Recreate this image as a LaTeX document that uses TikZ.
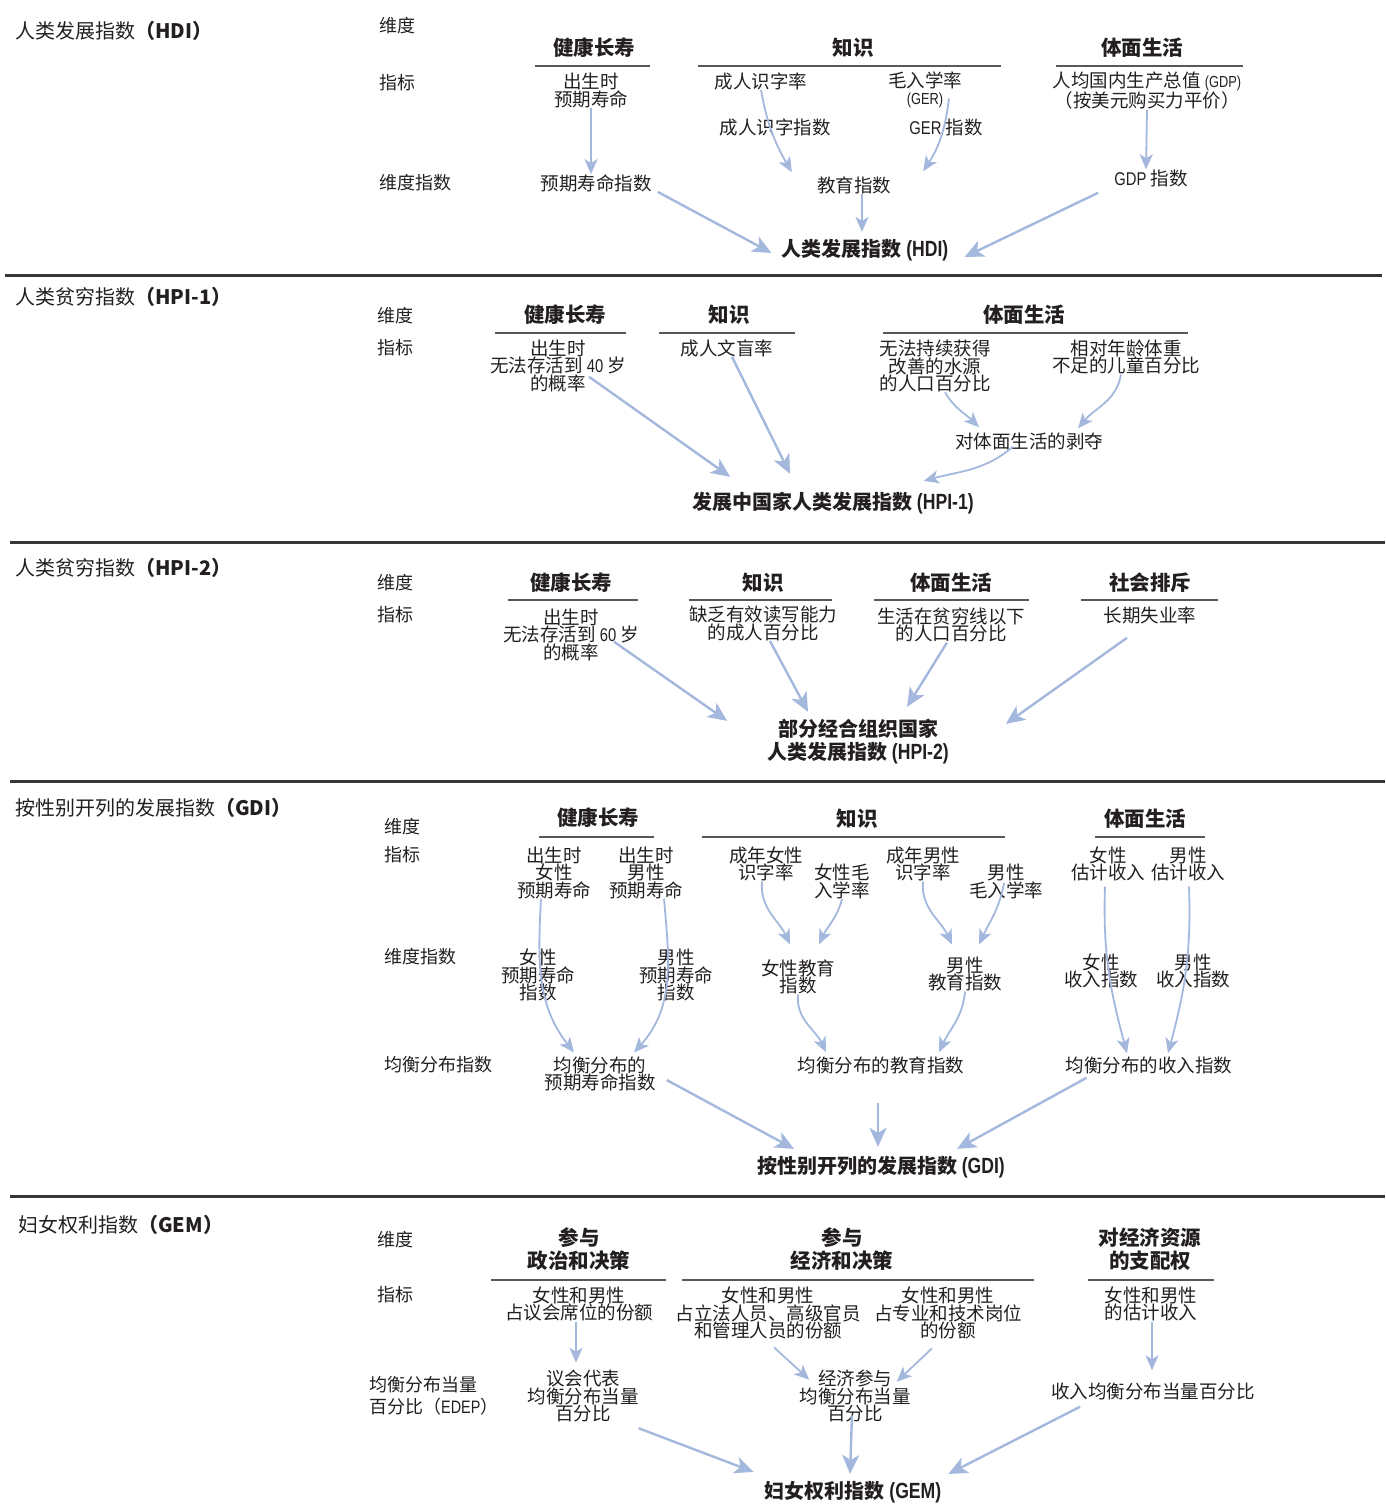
\documentclass[tikz,border=0pt]{standalone}
\usepackage{fontspec}
\setmainfont{Noto Sans CJK SC}
\newfontfamily\cond[FakeStretch=0.8]{Liberation Sans}
\usepackage{xcolor}
\usetikzlibrary{arrows.meta}
\definecolor{ink}{RGB}{35,31,32}
\definecolor{flow}{RGB}{164,184,222}
\definecolor{rulegray}{RGB}{88,88,90}
\newcommand{\fsz}[2]{\fontsize{#1}{#2}\selectfont}

\begin{document}
\begin{tikzpicture}[x=1pt, y=-1pt,
  every node/.style={inner sep=0pt, text=ink},
  txt/.style={align=center, font=\fsz{18.5}{17.5}},
  rowlab/.style={anchor=west, align=left, font=\fsz{18}{21.5}},
  sect/.style={anchor=west, font=\fsz{20}{22}},
  dim/.style={align=center, font=\bfseries\fsz{20.5}{22.5}},
  total/.style={align=center, font=\bfseries\fsz{20}{23}},
  dimrule/.style={draw=rulegray, line width=2pt},
  sep/.style={draw=ink!90, line width=3pt},
  arr/.style={-{Stealth[length=15pt, width=13pt, inset=4pt]}, draw=flow, line width=1.8pt},
  bigarr/.style={arr, -{Stealth[length=19pt, width=17pt, inset=5pt]}, line width=2.4pt}
]
  \useasboundingbox (0,0) rectangle (1385,1504);

  % Section rules
  \draw[sep] (5,275) -- (1382,275);
  \draw[sep] (10,542) -- (1385,542);
  \draw[sep] (10,781) -- (1385,781);
  \draw[sep] (10,1196) -- (1385,1196);

  % HDI
  \node[sect] (hdiT) at (15,31) {人类发展指数\textbf{（HDI）}};
  \node[rowlab] (hdiR1) at (379,26) {维度};
  \node[rowlab] (hdiR2) at (379,83) {指标};
  \node[rowlab] (hdiR3) at (379,183) {维度指数};
  \node[dim] (hdiD1) at (594,48) {健康长寿};
  \node[dim] (hdiD2) at (853,48) {知识};
  \node[dim] (hdiD3) at (1142,48) {体面生活};
  \draw[dimrule] (535,66) -- (650,66);
  \draw[dimrule] (698,66) -- (1001,66);
  \draw[dimrule] (1056,66) -- (1243,66);
  \node[txt] (hdiLE) at (591,90.5) {出生时\\预期寿命};
  \node[txt] (hdiAL) at (761,81) {成人识字率};
  \node[txt] (hdiGER) at (925,90) {毛入学率\\{\cond\fsz{16}{17.5}(GER)}};
  \node[txt] (hdiGDP) at (1147,91) {人均国内生产总值 {\cond\fsz{16}{17.5}(GDP)}\\（按美元购买力平价）};
  \node[txt] (hdiALI) at (775,127) {成人识字指数};
  \node[txt] (hdiGERI) at (946,127) {{\cond GER}\ 指数};
  \node[txt] (hdiLEI) at (596,183) {预期寿命指数};
  \node[txt] (hdiEI) at (854,185) {教育指数};
  \node[txt] (hdiGDPI) at (1151,178) {{\cond GDP}\ 指数};
  \node[total] (hdi) at (865,250) {人类发展指数 {\cond\fsz{22}{23}(HDI)}};

  \draw[arr] (hdiLE.south) -- ([xshift=-5pt]hdiLEI.north);
  \draw[arr] (hdiAL.south) to[out=-80,in=120] ([shift={(-25,-4)}]hdiEI.north west);
  \draw[arr] ([shift={(24,-10)}]hdiGER.south) to[out=-97,in=57] ([shift={(32,-5)}]hdiEI.north east);
  \draw[arr] (hdiGDP.south) -- ([xshift=-5pt]hdiGDPI.north);
  \draw[arr] ([xshift=8pt]hdiEI.south) -- ([shift={(-3,-7)}]hdi.north);
  \draw[bigarr] ([xshift=6pt]hdiLEI.south east) -- ([shift={(-10,3)}]hdi.west);
  \draw[bigarr] ([shift={(-16,6)}]hdiGDPI.south west) -- ([shift={(16,7)}]hdi.east);

  % HPI-1
  \node[sect] (hp1T) at (15,297) {人类贫穷指数\textbf{（HPI-1）}};
  \node[rowlab] (hp1R1) at (377,316) {维度};
  \node[rowlab] (hp1R2) at (377,348) {指标};
  \node[dim] (hp1D1) at (565,315) {健康长寿};
  \node[dim] (hp1D2) at (729,315) {知识};
  \node[dim] (hp1D3) at (1024,315) {体面生活};
  \draw[dimrule] (495,333) -- (626,333);
  \draw[dimrule] (659,333) -- (795,333);
  \draw[dimrule] (883,333) -- (1188,333);
  \node[txt] (hp1LE) at (558,365.5) {出生时\\无法存活到 {\cond 40} 岁\\的概率};
  \node[txt] (hp1IL) at (727,348) {成人文盲率};
  \node[txt] (hp1W) at (935,366) {无法持续获得\\改善的水源\\的人口百分比};
  \node[txt] (hp1U) at (1126,357) {相对年龄体重\\不足的儿童百分比};
  \node[txt] (hp1DL) at (1029,441) {对体面生活的剥夺};
  \node[total] (hpi1) at (833,503) {发展中国家人类发展指数 {\cond\fsz{22}{23}(HPI-1)}};

  \draw[bigarr] ([shift={(31,-15)}]hp1LE.south) -- ([shift={(38,-15)}]hpi1.north west);
  \draw[bigarr] ([xshift=5pt]hp1IL.south) -- ([shift={(-43,-18)}]hpi1.north);
  \draw[arr] ([xshift=10pt]hp1W.south) to[out=-60,in=135] ([shift={(-50,-5)}]hp1DL.north);
  \draw[arr] ([xshift=-5pt]hp1U.south) to[out=-100,in=50] ([shift={(49,-4)}]hp1DL.north);
  \draw[arr] ([shift={(-16,-3)}]hp1DL.south) to[out=-140,in=15] ([shift={(-50,-11)}]hpi1.north east);

  % HPI-2
  \node[sect] (hp2T) at (15,568) {人类贫穷指数\textbf{（HPI-2）}};
  \node[rowlab] (hp2R1) at (377,583) {维度};
  \node[rowlab] (hp2R2) at (377,615) {指标};
  \node[dim] (hp2D1) at (571,583) {健康长寿};
  \node[dim] (hp2D2) at (763,583) {知识};
  \node[dim] (hp2D3) at (951,583) {体面生活};
  \node[dim] (hp2D4) at (1150,583) {社会排斥};
  \draw[dimrule] (508,600) -- (638,600);
  \draw[dimrule] (689,600) -- (832,600);
  \draw[dimrule] (874,600) -- (1029,600);
  \draw[dimrule] (1081,600) -- (1218,600);
  \node[txt] (hp2LE) at (571,634.5) {出生时\\无法存活到 {\cond 60} 岁\\的概率};
  \node[txt] (hp2IL) at (763,623.5) {缺乏有效读写能力\\的成人百分比};
  \node[txt] (hp2PV) at (951,625) {生活在贫穷线以下\\的人口百分比};
  \node[txt] (hp2UE) at (1150,615) {长期失业率};
  \node[total] (hpi2) at (858,741.5) {部分经合组织国家\\人类发展指数 {\cond\fsz{22}{23}(HPI-2)}};

  \draw[bigarr] ([shift={(43,-19)}]hp2LE.south) -- ([shift={(-40,2)}]hpi2.north west);
  \draw[bigarr] ([xshift=7pt]hp2IL.south) -- ([shift={(-50,-7)}]hpi2.north);
  \draw[bigarr] ([xshift=-4pt]hp2PV.south) -- ([shift={(49,-12)}]hpi2.north);
  \draw[bigarr] ([shift={(-23,14)}]hp2UE.south) -- ([shift={(57,5)}]hpi2.north east);

  % GDI
  \node[sect] (gdiT) at (15,808) {按性别开列的发展指数\textbf{（GDI）}};
  \node[rowlab] (gdiR1) at (384,827) {维度};
  \node[rowlab] (gdiR2) at (384,855) {指标};
  \node[rowlab] (gdiR3) at (384,957) {维度指数};
  \node[rowlab] (gdiR4) at (384,1065) {均衡分布指数};
  \node[dim] (gdiD1) at (598,818) {健康长寿};
  \node[dim] (gdiD2) at (857,819) {知识};
  \node[dim] (gdiD3) at (1145,819) {体面生活};
  \draw[dimrule] (539,837) -- (654,837);
  \draw[dimrule] (702,837) -- (1005,837);
  \draw[dimrule] (1095,837) -- (1205,837);
  \node[txt] (gLEf) at (554,872.5) {出生时\\女性\\预期寿命};
  \node[txt] (gLEm) at (646,872.5) {出生时\\男性\\预期寿命};
  \node[txt] (gLIf) at (766,864) {成年女性\\识字率};
  \node[txt] (gERf) at (842,881.5) {女性毛\\入学率};
  \node[txt] (gLIm) at (923,864) {成年男性\\识字率};
  \node[txt] (gERm) at (1006,881.5) {男性\\毛入学率};
  \node[txt] (gINf) at (1108,864) {女性\\估计收入};
  \node[txt] (gINm) at (1188,864) {男性\\估计收入};
  \node[txt] (gLEIf) at (538,975) {女性\\预期寿命\\指数};
  \node[txt] (gLEIm) at (676,975) {男性\\预期寿命\\指数};
  \node[txt] (gEIf) at (798,977) {女性教育\\指数};
  \node[txt] (gEIm) at (965,974) {男性\\教育指数};
  \node[txt] (gIIf) at (1101,971) {女性\\收入指数};
  \node[txt] (gIIm) at (1193,971) {男性\\收入指数};
  \node[txt] (gLEe) at (600,1074) {均衡分布的\\预期寿命指数};
  \node[txt] (gEIe) at (881,1065) {均衡分布的教育指数};
  \node[txt] (gIIe) at (1149,1065) {均衡分布的收入指数};
  \node[total] (gdi) at (881,1167) {按性别开列的发展指数 {\cond\fsz{22}{23}(GDI)}};

  \draw[arr] ([xshift=-13pt]gLEf.south) to[out=-93,in=128] ([shift={(-26,-4)}]gLEe.north);
  \draw[arr] ([xshift=18pt]gLEm.south) to[out=-85,in=48] ([shift={(34,-4)}]gLEe.north);
  \draw[arr] ([xshift=-4pt]gLIf.south) to[out=-95,in=115] ([shift={(-8,-15)}]gEIf.north);
  \draw[arr] (gERf.south) to[out=-105,in=65] ([shift={(21,-15)}]gEIf.north);
  \draw[arr] (gLIm.south) to[out=-95,in=115] ([shift={(-13,-12)}]gEIm.north);
  \draw[arr] ([shift={(-2,-16)}]gERm.south) to[out=-100,in=65] ([shift={(14,-12)}]gEIm.north);
  \draw[arr] ([shift={(-3,5)}]gINf.south) to[out=-92,in=105] ([shift={(-22,-3)}]gIIe.north);
  \draw[arr] ([shift={(1,5)}]gINm.south) to[out=-88,in=75] ([shift={(19,-3)}]gIIe.north);
  \draw[arr] (gEIf.south) to[out=-95,in=115] ([shift={(-55,-4)}]gEIe.north);
  \draw[arr] (gEIm.south) to[out=-95,in=65] ([shift={(58,-4)}]gEIe.north);
  \draw[bigarr] ([shift={(11,6)}]gLEe.east) -- ([shift={(37,-7)}]gdi.north west);
  \draw[bigarr] ([shift={(-3,29)}]gEIe.south) -- ([shift={(-3,-9)}]gdi.north);
  \draw[bigarr] ([shift={(21,4)}]gIIe.south west) -- ([shift={(-48,-7)}]gdi.north east);

  % GEM
  \node[sect] (gemT) at (18,1225) {妇女权利指数\textbf{（GEM）}};
  \node[rowlab] (gemR1) at (377,1240) {维度};
  \node[rowlab] (gemR2) at (377,1295) {指标};
  \node[rowlab] (gemR3) at (369,1396) {均衡分布当量\\百分比（{\cond EDEP}）};
  \node[dim] (gemD1) at (579,1249) {参与\\政治和决策};
  \node[dim] (gemD2) at (842,1249) {参与\\经济和决策};
  \node[dim] (gemD3) at (1150,1249) {对经济资源\\的支配权};
  \draw[dimrule] (491,1280) -- (666,1280);
  \draw[dimrule] (682,1280) -- (1034,1280);
  \draw[dimrule] (1088,1280) -- (1214,1280);
  \node[txt] (gPS) at (579,1304) {女性和男性\\占议会席位的份额};
  \node[txt] (gLS) at (768,1313) {女性和男性\\占立法人员、高级官员\\和管理人员的份额};
  \node[txt] (gPT) at (948,1313) {女性和男性\\占专业和技术岗位\\的份额};
  \node[txt] (gEI) at (1151,1304) {女性和男性\\的估计收入};
  \node[txt] (gPSe) at (583,1396) {议会代表\\均衡分布当量\\百分比};
  \node[txt] (gECe) at (855,1396) {经济参与\\均衡分布当量\\百分比};
  \node[txt] (gINe) at (1153,1391) {收入均衡分布当量百分比};
  \node[total] (gem) at (853,1492) {妇女权利指数 {\cond\fsz{22}{23}(GEM)}};

  \draw[arr] ([xshift=-3pt]gPS.south) -- ([shift={(-7,-7)}]gPSe.north);
  \draw[arr] ([shift={(6,8)}]gLS.south) -- ([shift={(10,10)}]gECe.north west);
  \draw[arr] ([shift={(-16,9)}]gPT.south) -- ([shift={(-14,12)}]gECe.north east);
  \draw[arr] ([xshift=1pt]gEI.south) -- ([shift={(-1,-12)}]gINe.north);
  \draw[bigarr] ([shift={(-3,-7)}]gECe.south) -- ([shift={(-3,-7)}]gem.north);
  \draw[bigarr] ([shift={(29,7)}]gINe.south west) -- ([shift={(7,-7)}]gem.north east);
  \draw[bigarr] ([shift={(0,6)}]gPSe.south east) -- ([shift={(-11,-9)}]gem.north west);
\end{tikzpicture}
\end{document}
